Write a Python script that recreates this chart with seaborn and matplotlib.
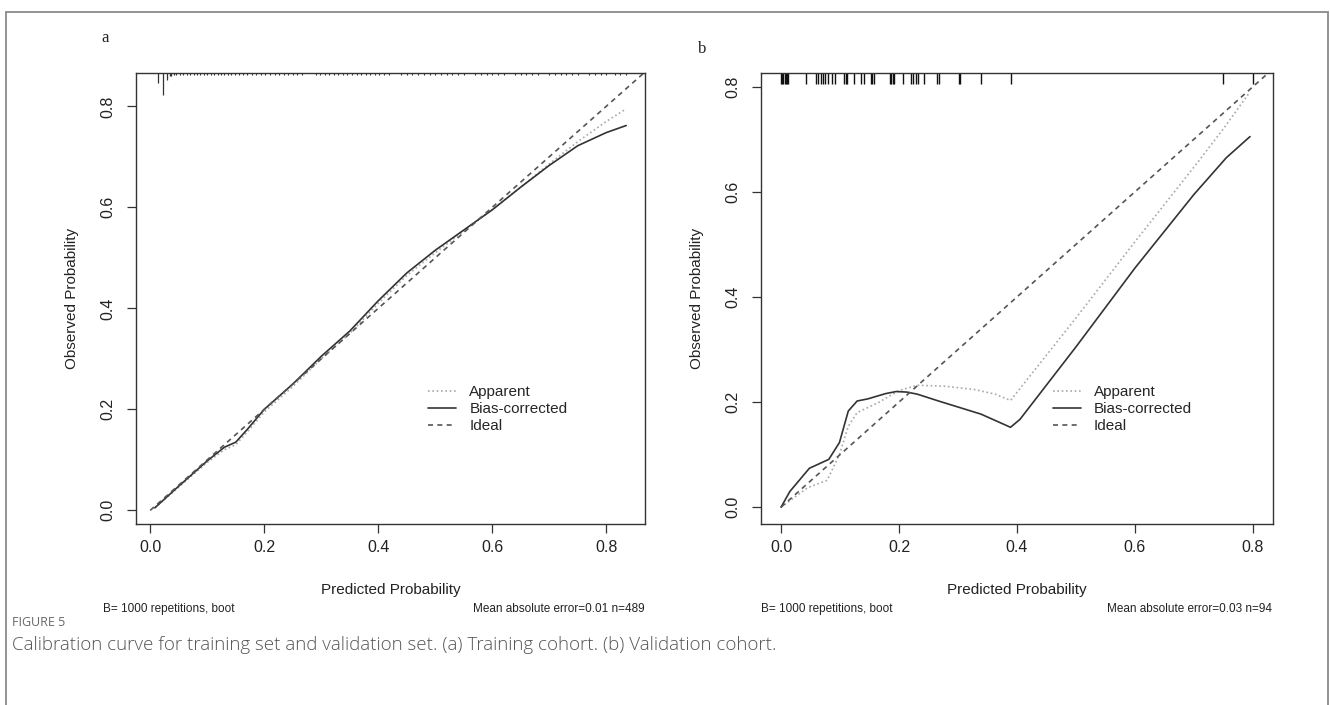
import numpy as np
import pandas as pd
import matplotlib
matplotlib.use("Agg")
import matplotlib.pyplot as plt
import seaborn as sns
from matplotlib.patches import Rectangle

# ---------------- data ----------------
# Panel a: training cohort
a_pred = [0.008, 0.05, 0.10, 0.13, 0.15, 0.17, 0.20, 0.25, 0.30, 0.35, 0.40,
          0.45, 0.50, 0.55, 0.60, 0.65, 0.70, 0.75, 0.80, 0.835]
a_apparent = [0.005, 0.046, 0.095, 0.120, 0.130, 0.155, 0.195, 0.245, 0.300,
              0.350, 0.410, 0.465, 0.510, 0.553, 0.596, 0.640, 0.686, 0.730,
              0.770, 0.795]
a_bias = [0.005, 0.048, 0.098, 0.125, 0.135, 0.160, 0.200, 0.250, 0.305,
          0.355, 0.415, 0.470, 0.515, 0.555, 0.595, 0.640, 0.683, 0.722,
          0.748, 0.762]

# Panel b: validation cohort
b_pred_app = [0.0, 0.045, 0.078, 0.099, 0.114, 0.129, 0.165, 0.200, 0.231,
              0.279, 0.327, 0.363, 0.389, 0.50, 0.60, 0.70, 0.75, 0.795]
b_apparent = [0.0, 0.037, 0.051, 0.100, 0.154, 0.180, 0.199, 0.222, 0.232,
              0.230, 0.224, 0.215, 0.203, 0.360, 0.505, 0.647, 0.720, 0.790]
b_pred_bias = [0.0, 0.015, 0.048, 0.081, 0.099, 0.114, 0.129, 0.147, 0.177,
               0.195, 0.213, 0.231, 0.267, 0.339, 0.389, 0.405, 0.50, 0.60,
               0.70, 0.755, 0.795]
b_bias = [0.0, 0.030, 0.074, 0.091, 0.123, 0.183, 0.202, 0.206, 0.216, 0.220,
          0.219, 0.215, 0.202, 0.177, 0.152, 0.167, 0.305, 0.455, 0.595,
          0.665, 0.705]

ideal = [0.0, 1.0]

# rug of predicted probabilities (top of each panel)
rug_a_peak_x = [0.013, 0.023, 0.030, 0.034, 0.037, 0.041]
rug_a_peak_n = [9, 20, 6, 3, 3, 2]
rug_a_single_x = [0.046, 0.052, 0.058, 0.064, 0.070, 0.076, 0.082, 0.088, 0.094,
                  0.100, 0.106, 0.112, 0.118, 0.124, 0.130, 0.136, 0.142, 0.148,
                  0.155, 0.162, 0.170, 0.178, 0.186, 0.194, 0.202, 0.210, 0.218,
                  0.226, 0.234, 0.242, 0.250, 0.258, 0.266, 0.290, 0.298, 0.306,
                  0.314, 0.322, 0.330, 0.338, 0.346, 0.354, 0.362, 0.370, 0.378,
                  0.386, 0.394, 0.402, 0.410, 0.418, 0.440, 0.450, 0.460, 0.470,
                  0.480, 0.490, 0.500, 0.510, 0.520, 0.530, 0.540, 0.550, 0.570,
                  0.580, 0.590, 0.600, 0.610, 0.620, 0.640, 0.650, 0.660, 0.670,
                  0.680, 0.700, 0.710, 0.720, 0.730, 0.740, 0.750, 0.770, 0.780,
                  0.790, 0.800, 0.815, 0.825, 0.835]
rug_b_x = [0.000, 0.002, 0.004, 0.006, 0.008, 0.010, 0.012, 0.042, 0.059, 0.063,
           0.067, 0.071, 0.075, 0.079, 0.087, 0.091, 0.107, 0.110, 0.112, 0.124,
           0.136, 0.140, 0.152, 0.154, 0.157, 0.185, 0.187, 0.189, 0.192, 0.206,
           0.221, 0.224, 0.228, 0.232, 0.243, 0.264, 0.267, 0.301, 0.304, 0.339,
           0.389, 0.750, 0.800]

series_order = ["Apparent", "Bias-corrected", "Ideal"]
tick_vals = [0.0, 0.2, 0.4, 0.6, 0.8]
tick_labels = ["0.0", "0.2", "0.4", "0.6", "0.8"]
panel_letters = ["a", "b"]
left_notes = ["B= 1000 repetitions, boot", "B= 1000 repetitions, boot"]
right_notes = ["Mean absolute error=0.01 n=489", "Mean absolute error=0.03 n=94"]
x_title = "Predicted Probability"
y_title = "Observed Probability"
fig_label = "FIGURE 5"
caption = ("Calibration curve for training set and validation set. "
           "(a) Training cohort. (b) Validation cohort.")

# ---------------- style ----------------
sns.set_theme(style="white")
plt.rcParams["font.family"] = ["Liberation Sans", "DejaVu Sans"]

W, H = 1330, 705
fig = plt.figure(figsize=(W / 100, H / 100), dpi=100)

def px_axes(l, t, r, b):
    return fig.add_axes([l / W, 1 - b / H, (r - l) / W, (b - t) / H])

ax_a = px_axes(136, 73, 645, 524)
ax_b = px_axes(761, 73, 1273, 524)

palette = {"Apparent": "#a8a8a8", "Bias-corrected": "#333333", "Ideal": "#555555"}
dashes = {"Apparent": (1, 1.6), "Bias-corrected": "", "Ideal": (3, 2.6)}


def long_frame(xa, ya, xb, yb):
    return pd.DataFrame({
        "x": list(xa) + list(xb) + ideal,
        "y": list(ya) + list(yb) + ideal,
        "kind": ["Apparent"] * len(xa) + ["Bias-corrected"] * len(xb) + ["Ideal"] * len(ideal),
    })


df_a = long_frame(a_pred, a_apparent, a_pred, a_bias)
df_b = long_frame(b_pred_app, b_apparent, b_pred_bias, b_bias)

lims = {0: ((-0.025, 0.868), (-0.027, 0.866)), 1: ((-0.034, 0.834), (-0.032, 0.826))}
legend_anchor = {0: (0.574, 0.308), 1: (0.570, 0.308)}
ylabel_x = {0: -(136 - 72) / 509, 1: -(761 - 697) / 512}

for i, (ax, df) in enumerate([(ax_a, df_a), (ax_b, df_b)]):
    sns.lineplot(data=df, x="x", y="y", hue="kind", style="kind",
                 hue_order=series_order, style_order=series_order,
                 palette=palette, dashes=dashes, estimator=None, sort=False,
                 linewidth=1.2, ax=ax)
    ax.set_xlim(*lims[i][0])
    ax.set_ylim(*lims[i][1])
    ax.set_xticks(tick_vals, tick_labels)
    ax.set_yticks(tick_vals, tick_labels)
    for sp in ax.spines.values():
        sp.set_color("#333333")
        sp.set_linewidth(1.0)
    ax.tick_params(axis="both", direction="out", length=6.5, width=0.9,
                   color="#333333", labelsize=11.5, labelcolor="#222222")
    ax.tick_params(axis="x", pad=5, bottom=True)
    ax.tick_params(axis="y", pad=8, left=True)
    for lab in ax.get_yticklabels():
        lab.set_rotation(90)
        lab.set_va("center")
    ax.set_xlabel(x_title, fontsize=11, color="#222222", va="center")
    ax.set_ylabel(y_title, fontsize=11, color="#222222", va="center")
    ax.xaxis.set_label_coords(0.5, -(590 - 524) / 451)
    ax.yaxis.set_label_coords(ylabel_x[i], 0.5)

    handles, labels = ax.get_legend_handles_labels()
    ax.legend(handles, labels, loc="upper left", bbox_to_anchor=legend_anchor[i],
              frameon=False, fontsize=11, handlelength=1.85, handletextpad=0.85,
              labelspacing=0.2, borderpad=0, borderaxespad=0)

# rugs along the top edge
trans_a = ax_a.get_xaxis_transform()
ax_a.vlines(rug_a_peak_x, [1 - n * 1.1 / 451 for n in rug_a_peak_n], 1,
            colors="#333333", linewidth=0.9, transform=trans_a)
ax_a.vlines(rug_a_single_x, 1 - 1.6 / 451, 1, colors="#333333", linewidth=0.8,
            transform=trans_a)
trans_b = ax_b.get_xaxis_transform()
ax_b.vlines(rug_b_x, 1 - 10.5 / 451, 1, colors="#111111", linewidth=1.0,
            transform=trans_b)

# panel letters
fig.text(105 / W, 1 - 38 / H, panel_letters[0], family="Liberation Serif",
         fontsize=12, ha="center", va="center", color="#222222")
fig.text(702 / W, 1 - 49 / H, panel_letters[1], family="Liberation Serif",
         fontsize=12, ha="center", va="center", color="#222222")

# bottom notes
note_kw = dict(family=["Liberation Sans Narrow", "Liberation Sans"], fontsize=8.5,
               color="#222222", va="center")
fig.text(103 / W, 1 - 609 / H, left_notes[0], ha="left", **note_kw)
fig.text(645 / W, 1 - 609 / H, right_notes[0], ha="right", **note_kw)
fig.text(761 / W, 1 - 609 / H, left_notes[1], ha="left", **note_kw)
fig.text(1272 / W, 1 - 609 / H, right_notes[1], ha="right", **note_kw)

# caption
fig.text(12 / W, 1 - 623 / H, fig_label, family=["Open Sans", "DejaVu Sans"],
         fontsize=9, color="#666666", ha="left", va="center")
fig.text(12 / W, 1 - 645 / H, caption, family=["Open Sans", "DejaVu Sans"],
         fontsize=13.5, color="#555555", ha="left", va="center", fontweight="light")

# outer frame
fig.patches.append(Rectangle((6 / W, -0.05), (1328 - 6) / W, 1 - 12 / H + 0.05,
                             transform=fig.transFigure, fill=False,
                             edgecolor="#8a8a8a", linewidth=1.3))

fig.savefig("out.png", dpi=100)
